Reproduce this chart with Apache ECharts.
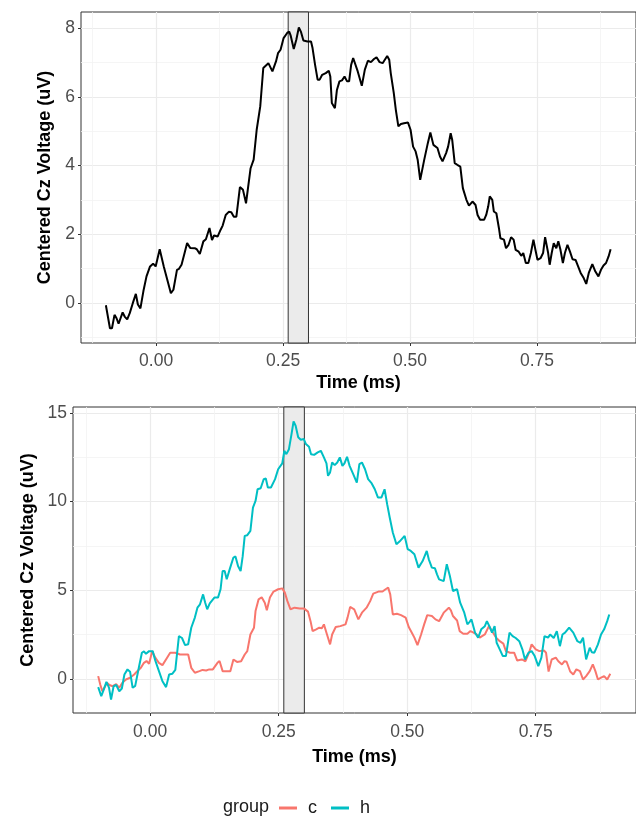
<!DOCTYPE html>
<html>
<head>
<meta charset="utf-8">
<script src="https://cdn.jsdelivr.net/npm/echarts@6/dist/echarts.min.js"></script>
<style>
  html, body { margin: 0; padding: 0; background: #fff; }
  #chart { width: 636px; height: 819px; }
</style>
</head>
<body>
<div id="chart"></div>
<script>
// top panel: grand average (time in ms, voltage in uV)
var topWave = [
  [-0.099,-0.07],[-0.091,-0.74],[-0.087,-0.74],[-0.082,-0.35],[-0.078,-0.45],[-0.074,-0.61],[-0.066,-0.28],
  [-0.062,-0.40],[-0.057,-0.48],[-0.052,-0.30],[-0.046,-0.01],[-0.040,0.26],[-0.036,-0.05],[-0.031,-0.16],
  [-0.025,0.35],[-0.019,0.77],[-0.012,1.06],[-0.006,1.14],[-0.001,1.06],[0.007,1.56],[0.015,1.06],
  [0.029,0.28],[0.034,0.38],[0.041,0.96],[0.045,0.99],[0.050,1.11],[0.056,1.45],[0.061,1.74],[0.067,1.60],
  [0.076,1.59],[0.080,1.56],[0.086,1.42],[0.093,1.79],[0.098,1.85],[0.105,2.18],[0.110,1.83],[0.114,1.96],
  [0.121,1.93],[0.127,2.13],[0.131,2.25],[0.137,2.56],[0.143,2.65],[0.148,2.64],[0.153,2.51],[0.158,2.51],
  [0.165,3.37],[0.171,3.29],[0.177,2.90],[0.186,3.92],[0.192,4.17],[0.198,5.04],[0.205,5.72],[0.211,6.84],
  [0.221,6.98],[0.229,6.74],[0.236,7.03],[0.240,7.27],[0.245,7.37],[0.251,7.71],[0.258,7.86],[0.262,7.90],
  [0.265,7.78],[0.271,7.39],[0.276,7.66],[0.281,8.02],[0.285,7.90],[0.290,7.64],[0.298,7.61],[0.305,7.61],
  [0.308,7.42],[0.313,6.93],[0.318,6.50],[0.322,6.50],[0.327,6.64],[0.334,6.69],[0.340,6.76],[0.343,6.59],
  [0.346,5.82],[0.352,5.67],[0.356,6.20],[0.361,6.45],[0.366,6.48],[0.371,6.59],[0.376,6.45],[0.380,6.45],
  [0.384,6.93],[0.388,7.13],[0.397,6.74],[0.405,6.32],[0.411,6.79],[0.417,7.05],[0.423,7.01],[0.429,7.10],
  [0.434,7.15],[0.440,7.01],[0.446,6.98],[0.455,7.19],[0.459,7.08],[0.462,6.69],[0.468,6.11],[0.472,5.62],
  [0.477,5.14],[0.482,5.21],[0.488,5.23],[0.496,5.25],[0.501,5.04],[0.506,4.55],[0.511,4.41],[0.515,4.17],
  [0.520,3.58],[0.528,4.17],[0.535,4.65],[0.540,4.96],[0.546,4.60],[0.554,4.51],[0.559,4.26],[0.564,4.12],
  [0.571,4.36],[0.575,4.55],[0.580,4.94],[0.583,4.75],[0.588,4.07],[0.593,4.02],[0.599,3.97],[0.604,3.34],
  [0.611,3.00],[0.616,2.83],[0.623,2.95],[0.629,2.85],[0.633,2.56],[0.638,2.42],[0.646,2.42],[0.650,2.56],
  [0.654,2.81],[0.657,3.10],[0.662,3.00],[0.665,2.66],[0.670,2.61],[0.675,2.18],[0.678,1.88],[0.685,1.84],
  [0.689,1.59],[0.694,1.69],[0.699,1.91],[0.704,1.84],[0.708,1.54],[0.714,1.49],[0.719,1.37],[0.723,1.45],
  [0.728,1.16],[0.733,1.16],[0.738,1.45],[0.743,1.84],[0.747,1.54],[0.751,1.25],[0.757,1.30],[0.762,1.45],
  [0.766,1.91],[0.772,1.45],[0.775,1.11],[0.779,1.45],[0.783,1.74],[0.788,1.59],[0.792,1.79],[0.796,1.56],
  [0.801,1.16],[0.805,1.45],[0.810,1.69],[0.815,1.49],[0.820,1.27],[0.826,1.25],[0.831,1.06],[0.836,0.87],
  [0.842,0.72],[0.847,0.55],[0.852,0.87],[0.859,1.13],[0.865,0.91],[0.871,0.77],[0.876,0.96],[0.881,1.09],
  [0.886,1.16],[0.891,1.35],[0.895,1.56]
];

// bottom panel: group c
var groupC = [
  [-0.101,0.15],[-0.097,-0.32],[-0.093,-0.70],[-0.088,-0.45],[-0.084,-0.23],[-0.079,-0.35],[-0.073,-0.42],
  [-0.066,-0.30],[-0.060,-0.51],[-0.054,-0.23],[-0.047,-0.04],[-0.039,0.06],[-0.031,0.24],[-0.025,0.43],
  [-0.018,0.62],[-0.012,0.90],[-0.007,1.00],[-0.002,0.85],[0.004,1.56],[0.010,1.19],[0.017,0.90],[0.024,0.77],
  [0.033,1.19],[0.039,1.47],[0.049,1.47],[0.058,1.37],[0.066,1.37],[0.074,1.37],[0.080,0.62],[0.087,0.34],
  [0.096,0.43],[0.102,0.50],[0.109,0.47],[0.115,0.53],[0.122,0.53],[0.131,0.90],[0.135,1.00],[0.141,0.43],
  [0.150,0.43],[0.156,0.43],[0.162,1.09],[0.169,0.95],[0.177,0.99],[0.184,1.37],[0.189,1.56],[0.195,2.50],
  [0.202,2.88],[0.205,3.82],[0.211,4.48],[0.217,4.60],[0.223,4.29],[0.227,3.86],[0.233,4.58],[0.240,4.92],
  [0.249,5.05],[0.257,5.10],[0.262,4.86],[0.267,4.38],[0.273,3.92],[0.281,4.01],[0.291,3.97],[0.299,3.97],
  [0.307,3.79],[0.312,3.25],[0.316,2.69],[0.323,2.79],[0.329,2.88],[0.334,2.85],[0.338,3.07],[0.344,2.50],
  [0.350,1.94],[0.354,2.50],[0.361,2.92],[0.370,2.97],[0.380,3.07],[0.384,3.45],[0.389,4.05],[0.397,3.92],
  [0.405,3.35],[0.412,3.73],[0.421,4.01],[0.428,4.38],[0.434,4.80],[0.444,4.92],[0.452,4.92],[0.458,5.05],
  [0.463,5.14],[0.467,4.76],[0.472,3.63],[0.480,3.67],[0.488,3.59],[0.497,3.45],[0.503,2.92],[0.509,2.60],
  [0.514,2.32],[0.520,1.90],[0.527,2.50],[0.533,3.07],[0.539,3.59],[0.548,3.54],[0.555,3.35],[0.562,3.25],
  [0.571,3.73],[0.581,4.01],[0.585,3.86],[0.589,3.54],[0.597,3.29],[0.602,2.69],[0.609,2.54],[0.617,2.54],
  [0.623,2.69],[0.629,2.60],[0.635,2.50],[0.641,2.32],[0.651,2.50],[0.659,2.97],[0.667,2.60],[0.673,2.32],
  [0.680,2.12],[0.687,1.98],[0.692,1.56],[0.700,1.47],[0.708,1.47],[0.714,1.03],[0.723,1.09],[0.730,0.99],
  [0.737,1.47],[0.742,1.94],[0.750,1.66],[0.757,1.56],[0.766,1.60],[0.770,1.47],[0.775,0.41],[0.781,1.09],
  [0.789,1.19],[0.794,0.99],[0.801,0.81],[0.806,0.99],[0.810,0.96],[0.817,0.41],[0.823,0.24],[0.829,0.53],
  [0.836,0.43],[0.842,-0.04],[0.848,0.15],[0.855,0.43],[0.861,0.81],[0.866,0.43],[0.871,-0.04],[0.877,0.06],
  [0.883,0.15],[0.889,-0.04],[0.895,0.28]
];

// bottom panel: group h
var groupH = [
  [-0.101,-0.47],[-0.095,-0.98],[-0.090,-0.60],[-0.085,-0.17],[-0.080,-0.50],[-0.076,-1.17],[-0.071,-0.42],
  [-0.066,-0.35],[-0.060,-0.70],[-0.055,-0.55],[-0.050,0.24],[-0.044,0.53],[-0.039,0.40],[-0.034,-0.51],
  [-0.029,-0.40],[-0.022,0.62],[-0.016,1.47],[-0.012,1.55],[-0.008,1.41],[-0.002,1.56],[0.005,1.56],
  [0.010,1.03],[0.017,0.45],[0.024,-0.14],[0.031,-0.47],[0.037,0.24],[0.043,0.28],[0.049,0.50],[0.056,2.41],
  [0.062,2.30],[0.068,1.90],[0.074,1.95],[0.080,2.88],[0.087,3.45],[0.092,4.01],[0.097,4.20],[0.103,4.76],
  [0.107,4.30],[0.111,3.92],[0.116,4.25],[0.125,4.58],[0.132,4.58],[0.137,5.05],[0.141,6.08],[0.145,6.08],
  [0.149,5.61],[0.155,6.20],[0.162,6.84],[0.166,6.90],[0.171,6.36],[0.176,6.08],[0.180,6.90],[0.184,8.06],
  [0.189,8.10],[0.195,8.34],[0.200,9.66],[0.205,10.03],[0.209,10.69],[0.215,10.75],[0.221,11.26],[0.225,11.30],
  [0.229,10.79],[0.235,10.79],[0.243,11.26],[0.249,11.82],[0.257,12.15],[0.261,12.86],[0.265,12.67],[0.270,12.95],
  [0.275,13.80],[0.279,14.52],[0.283,14.27],[0.288,13.62],[0.293,13.48],[0.299,13.52],[0.303,13.24],[0.309,13.09],
  [0.313,12.67],[0.319,12.63],[0.326,12.77],[0.332,12.86],[0.338,12.49],[0.343,12.15],[0.346,11.45],[0.350,11.64],
  [0.354,12.20],[0.359,12.05],[0.364,12.20],[0.369,12.49],[0.374,12.01],[0.378,12.15],[0.383,12.52],[0.388,12.01],
  [0.395,11.54],[0.402,11.07],[0.407,12.11],[0.412,12.20],[0.418,11.82],[0.424,11.26],[0.431,11.02],[0.437,10.69],
  [0.443,10.23],[0.450,10.23],[0.456,10.69],[0.461,9.85],[0.466,9.10],[0.472,8.25],[0.479,7.59],[0.485,7.74],
  [0.495,8.06],[0.501,7.31],[0.507,7.21],[0.514,7.02],[0.522,6.27],[0.530,6.64],[0.538,7.21],[0.542,6.74],
  [0.548,6.27],[0.554,6.23],[0.558,5.89],[0.562,5.61],[0.571,5.51],[0.577,6.46],[0.583,5.80],[0.589,4.95],
  [0.597,5.05],[0.603,4.29],[0.611,3.73],[0.617,3.07],[0.621,3.20],[0.625,3.35],[0.632,2.60],[0.638,2.32],
  [0.644,2.79],[0.651,2.97],[0.655,3.25],[0.660,2.95],[0.665,2.60],[0.670,2.97],[0.674,2.03],[0.680,1.66],
  [0.686,1.28],[0.692,1.28],[0.699,2.60],[0.705,2.41],[0.711,2.30],[0.718,2.12],[0.724,1.66],[0.729,1.09],
  [0.736,1.47],[0.742,1.56],[0.748,1.28],[0.755,0.71],[0.761,1.19],[0.767,2.41],[0.774,2.32],[0.778,2.50],
  [0.785,2.30],[0.791,2.69],[0.797,1.84],[0.802,2.50],[0.807,2.60],[0.815,2.88],[0.823,2.60],[0.831,2.12],
  [0.837,2.03],[0.842,2.32],[0.848,1.09],[0.855,1.75],[0.859,1.50],[0.864,1.47],[0.871,1.94],[0.877,2.50],
  [0.883,2.79],[0.889,3.25],[0.893,3.63]
];

var windowBand = [0.26, 0.30];
var xMajor = [0, 0.25, 0.5, 0.75];
var xMinor = [-0.125, 0.125, 0.375, 0.625, 0.875];
var topYMajor = [0, 2, 4, 6, 8];
var topYMinor = [-1, 1, 3, 5, 7];
var botYMajor = [0, 5, 10, 15];
var botYMinor = [2.5, 7.5, 12.5];

var chart = echarts.init(document.getElementById('chart'));

var FONT = 'Liberation Sans, Arial, sans-serif';
var gridCol = '#EBEBEB';
var minorCol = '#F3F3F3';

function majorX(gridIndex, min, max, gap, margin) {
    return {
        type: 'value', gridIndex: gridIndex, min: min, max: max, position: 'bottom',
        name: 'Time (ms)', nameLocation: 'middle', nameGap: gap,
        nameTextStyle: { fontFamily: FONT, fontSize: 18, fontWeight: 'bold', color: '#000' },
        axisLine: { show: false, onZero: false },
        axisTick: { show: true, length: 3, lineStyle: { color: '#333', width: 1 }, customValues: xMajor },
        axisLabel: { customValues: xMajor, margin: margin, fontFamily: FONT, fontSize: 17.5, color: '#4D4D4D',
            formatter: function (v) { return v.toFixed(2); } },
        splitLine: { show: true, lineStyle: { color: gridCol, width: 1.2 } }
    };
}
function minorX(gridIndex, min, max) {
    return {
        type: 'value', gridIndex: gridIndex, min: min, max: max, position: 'bottom',
        axisLine: { show: false, onZero: false },
        axisTick: { show: false, customValues: xMinor },
        axisLabel: { show: false, customValues: xMinor },
        splitLine: { show: true, lineStyle: { color: minorCol, width: 0.8 } }
    };
}
function majorY(gridIndex, min, max, ticks, gap) {
    return {
        type: 'value', gridIndex: gridIndex, min: min, max: max, position: 'left',
        name: 'Centered Cz Voltage (uV)', nameLocation: 'middle', nameGap: gap, nameRotate: 90,
        nameTextStyle: { fontFamily: FONT, fontSize: 18, fontWeight: 'bold', color: '#000' },
        axisLine: { show: false, onZero: false },
        axisTick: { show: true, length: 3, lineStyle: { color: '#333', width: 1 }, customValues: ticks },
        axisLabel: { customValues: ticks, margin: 6, fontFamily: FONT, fontSize: 17.5, color: '#4D4D4D' },
        splitLine: { show: true, lineStyle: { color: gridCol, width: 1.2 } }
    };
}
function minorY(gridIndex, min, max, ticks) {
    return {
        type: 'value', gridIndex: gridIndex, min: min, max: max, position: 'left',
        axisLine: { show: false, onZero: false },
        axisTick: { show: false, customValues: ticks },
        axisLabel: { show: false, customValues: ticks },
        splitLine: { show: true, lineStyle: { color: minorCol, width: 0.8 } }
    };
}

var band = {
    silent: true,
    itemStyle: { color: '#EBEBEB', opacity: 1, borderColor: '#333', borderWidth: 1 },
    data: [[{ xAxis: windowBand[0] }, { xAxis: windowBand[1] }]]
};

var option = {
    backgroundColor: '#fff',
    animation: false,
    grid: [
        { left: 81, top: 12, width: 565, height: 331, show: true, borderColor: '#333', borderWidth: 1, backgroundColor: 'transparent' },
        { left: 73, top: 407, width: 573, height: 306, show: true, borderColor: '#333', borderWidth: 1, backgroundColor: 'transparent' }
    ],
    xAxis: [
        majorX(0, -0.148, 0.945, 31, 9),
        minorX(0, -0.148, 0.945),
        majorX(1, -0.15, 0.945, 35, 10),
        minorX(1, -0.15, 0.945)
    ],
    yAxis: [
        majorY(0, -1.17, 8.47, topYMajor, 22),
        minorY(0, -1.17, 8.47, topYMinor),
        majorY(1, -1.93, 15.33, botYMajor, 36),
        minorY(1, -1.93, 15.33, botYMinor)
    ],
    legend: {
        data: ['c', 'h'],
        left: 274, top: 794,
        itemWidth: 18, itemHeight: 3, itemGap: 14,
        icon: 'rect',
        textStyle: { fontFamily: FONT, fontSize: 18, color: '#1A1A1A', padding: [0, 0, 0, 6] }
    },
    graphic: [{
        type: 'text', left: 223, top: 798,
        style: { text: 'group', fontFamily: FONT, fontSize: 18, fill: '#1A1A1A' }
    }],
    series: [
        {
            name: 'avg', type: 'line', xAxisIndex: 0, yAxisIndex: 0,
            data: topWave, showSymbol: false, symbol: 'none',
            lineStyle: { color: '#000', width: 2 }, itemStyle: { color: '#000' },
            markArea: band
        },
        {
            name: 'c', type: 'line', xAxisIndex: 2, yAxisIndex: 2,
            data: groupC, showSymbol: false, symbol: 'none',
            lineStyle: { color: '#F8766D', width: 2 }, itemStyle: { color: '#F8766D' },
            markArea: band
        },
        {
            name: 'h', type: 'line', xAxisIndex: 2, yAxisIndex: 2,
            data: groupH, showSymbol: false, symbol: 'none',
            lineStyle: { color: '#00BFC4', width: 2 }, itemStyle: { color: '#00BFC4' }
        }
    ]
};

chart.setOption(option);
</script>
</body>
</html>
